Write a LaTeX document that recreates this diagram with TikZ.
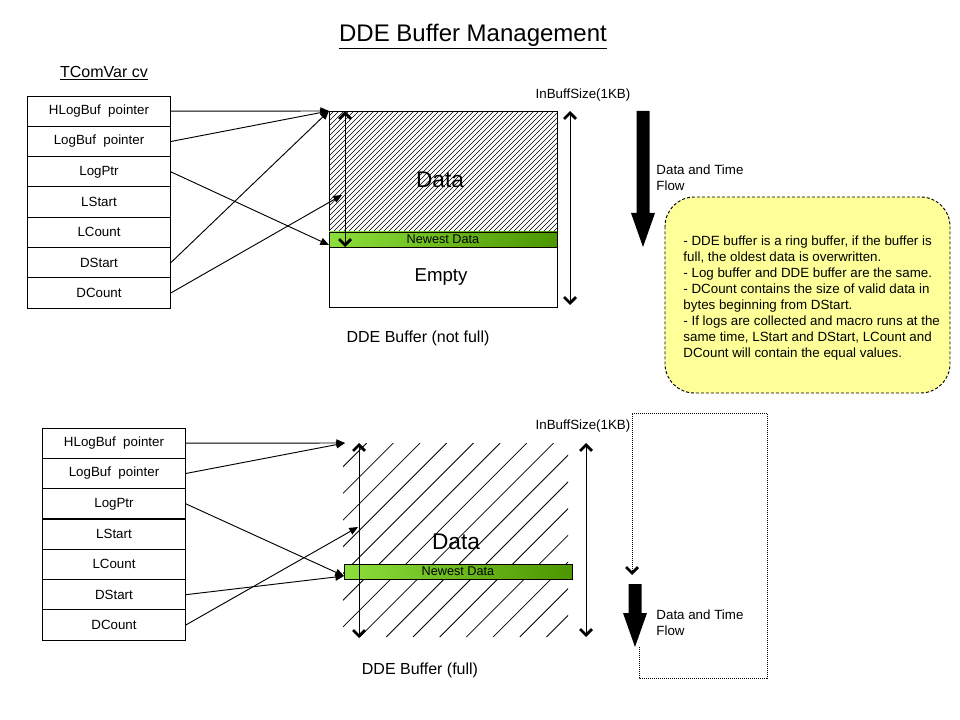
\documentclass[tikz,border=0pt]{standalone}
\usepackage{fontspec}
\setmainfont{Liberation Sans}
\usetikzlibrary{arrows.meta}

\definecolor{notefill}{RGB}{255,255,153}
\definecolor{newleft}{RGB}{140,222,60}
\definecolor{newright}{RGB}{76,150,0}

\tikzset{
  cell/.style={draw, minimum width=107pt, minimum height=22.7pt, inner sep=0pt,
    font=\fontsize{10}{12}\selectfont},
  newest/.style={draw, left color=newleft, right color=newright, minimum width=171pt,
    minimum height=11.25pt, inner sep=0pt, font=\fontsize{9.5}{11}\selectfont},
  ptr/.style={-{Triangle[length=6.5pt,width=5.5pt]}},
  barb/.tip={Straight Barb[length=4.5pt 0 0,width=9pt 0 0,line width=2pt 0 0]},
  sizearrow/.style={barb-barb},
  lbl/.style={font=\fontsize{10}{12}\selectfont, inner sep=0pt},
  notebox/.style={draw, fill=notefill, rounded corners=22pt, dash pattern=on 2.25pt off 1.5pt},
  flowpath/.style={dash pattern=on 0.75pt off 0.75pt, -barb},
}

\begin{document}
\begin{tikzpicture}[x=0.75pt, y=-0.75pt, line width=0.7pt]

        \useasboundingbox (0,0) rectangle (960,720);

        % titles
        \node[inner sep=0pt, font=\fontsize{18}{22}\selectfont] (title) at (473,37) {\underline{DDE Buffer Management}};
        \node[inner sep=0pt, font=\fontsize{12}{14}\selectfont] (cvname) at (104,73) {\underline{TComVar cv}};

        % TComVar cv, buffer not full
        \begin{scope}[every node/.style={cell}]
          \node (t1) at (99,111.2) {HLogBuf\ \ pointer};
          \node (t2) at (99,141.5) {LogBuf\ \ pointer};
          \node (t3) at (99,171.8) {LogPtr};
          \node (t4) at (99,202.1) {LStart};
          \node (t5) at (99,232.4) {LCount};
          \node (t6) at (99,262.7) {DStart};
          \node (t7) at (99,293)   {DCount};
        \end{scope}

        % TComVar cv, buffer full
        \begin{scope}[every node/.style={cell}]
          \node (f1) at (114,443.2) {HLogBuf\ \ pointer};
          \node (f2) at (114,473.5) {LogBuf\ \ pointer};
          \node (f3) at (114,503.8) {LogPtr};
          \node (f4) at (114,534.1) {LStart};
          \node (f5) at (114,564.4) {LCount};
          \node (f6) at (114,594.7) {DStart};
          \node (f7) at (114,625)   {DCount};
        \end{scope}

        % DDE buffer (not full)
        \begin{scope}
          \clip (329,111) rectangle (557,232);
          \foreach \c in {440,445,...,790}
            \draw[line width=0.5pt] ({\c-232},232) -- ({\c-111},111);
        \end{scope}
        \draw (329,111) rectangle (557,307);
        \node[newest] (newtop) at (443,239.5) {Newest Data};
        \node[inner sep=0pt, font=\fontsize{17}{20}\selectfont] (datatop) at (440,180) {Data};
        \node[inner sep=0pt, font=\fontsize{14}{16}\selectfont] (empty) at (441,277) {Empty};
        \node[lbl, font=\fontsize{12}{14}\selectfont] (captop) at (418,338) {DDE Buffer (not full)};
        \node[lbl] (sizetop) at (583,95) {InBuffSize(1KB)};

        \coordinate (a1) at (345,111);
        \coordinate (a2) at (345,247);
        \coordinate (a3) at (570,111);
        \coordinate (a4) at (570,305);
        \draw[sizearrow] (a1) -- (a2);
        \draw[sizearrow] (a3) -- (a4);

        \fill (636.5,111) -- (649.5,111) -- (649.5,213) -- (655,213) -- (643,247)
          -- (631,213) -- (636.5,213) -- cycle;
        \node[lbl, anchor=west, align=left] (flowtop) at (656,178) {Data and Time\\Flow};

        % DDE buffer (full)
        \begin{scope}
          \clip (343,443) rectangle (568,637);
          \foreach \c in {783,809.7,...,1210}
            \draw[line width=0.6pt] ({\c-637},637) -- ({\c-443},443);
        \end{scope}
        \node[newest] (newfull) at (458,571.5) {Newest Data};
        \node[inner sep=0pt, font=\fontsize{17}{20}\selectfont] (datafull) at (456,542) {Data};
        \node[lbl, font=\fontsize{12}{14}\selectfont] (capfull) at (420,670) {DDE Buffer (full)};
        \node[lbl] (sizefull) at (583,426) {InBuffSize(1KB)};

        \coordinate (b1) at (359,443);
        \coordinate (b2) at (359,638);
        \coordinate (b3) at (586,443);
        \coordinate (b4) at (586,637);
        \draw[sizearrow] (b1) -- (b2);
        \draw[sizearrow] (b3) -- (b4);

        \fill (628.5,584) -- (641.5,584) -- (641.5,613) -- (647,613) -- (635,647)
          -- (623,613) -- (628.5,613) -- cycle;
        \node[lbl, anchor=west, align=left] (flowfull) at (656,623) {Data and Time\\Flow};

        \coordinate (w1) at (639,647);
        \coordinate (w2) at (632,575);
        \draw[flowpath] (w1) -- (639,678) -- (767,678) -- (767,413) -- (632,413) -- (w2);

        % note
        \draw[notebox] (665,197) rectangle (950,393);
        \node[lbl, anchor=north west, align=left] (notetext) at (683,235)
          {- DDE buffer is a ring buffer, if the buffer is\\
           full, the oldest data is overwritten.\\
           - Log buffer and DDE buffer are the same.\\
           - DCount contains the size of valid data in\\
           bytes beginning from DStart.\\
           - If logs are collected and macro runs at the\\
           same time, LStart and DStart, LCount and\\
           DCount will contain the equal values.};

        % pointers
        \coordinate (topstart) at (329,111);
        \coordinate (topnew)   at (329,245);
        \coordinate (topmid)   at (342,195);
        \coordinate (fullstart) at (345,443);
        \coordinate (fullnew)   at (344,576);
        \coordinate (fullmid)   at (358,527);

        \begin{scope}[every path/.style={ptr}]
          \draw (t1.east) -- (topstart);
          \draw (t2.east) -- (topstart);
          \draw (t3.east) -- (topnew);
          \draw (t6.east) -- (topstart);
          \draw (t7.east) -- (topmid);
          \draw (f1.east) -- (fullstart);
          \draw (f2.east) -- (fullstart);
          \draw (f3.east) -- (fullnew);
          \draw (f6.east) -- (fullnew);
          \draw (f7.east) -- (fullmid);
        \end{scope}

      \end{tikzpicture}
\end{document}
